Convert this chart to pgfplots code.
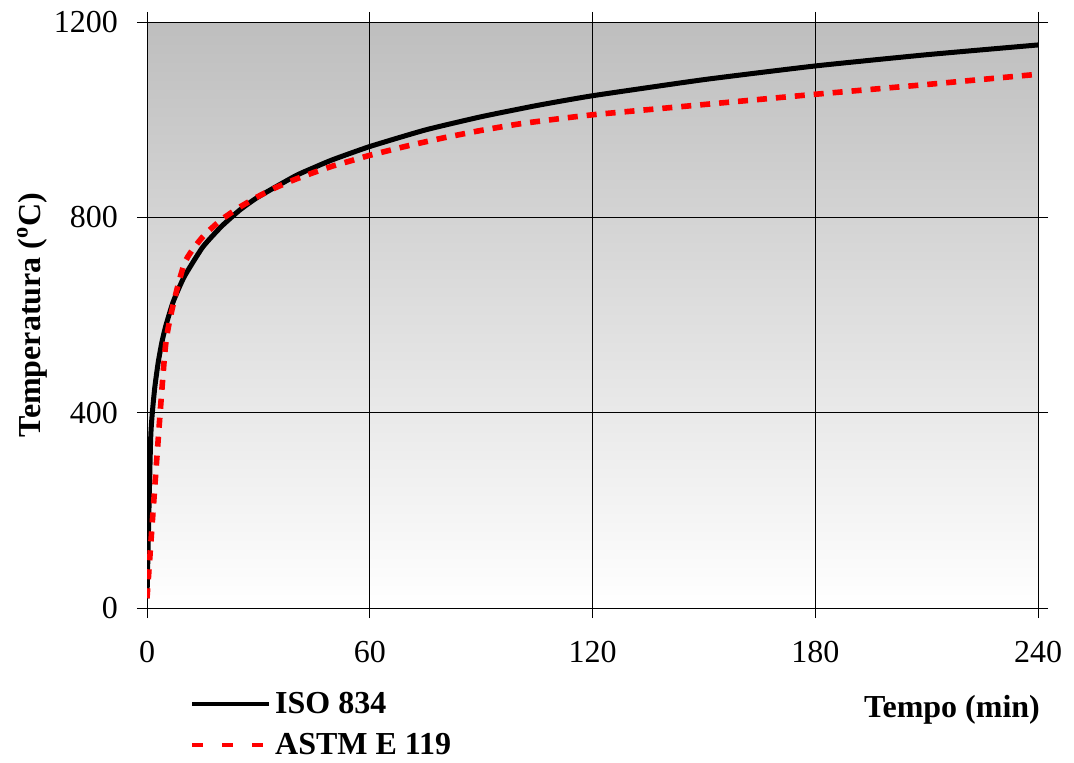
\documentclass[border=0pt]{standalone}
\usepackage{pgfplots}
\pgfplotsset{compat=1.18}
\usepackage{fontspec}
\setmainfont{Liberation Serif}
\definecolor{topgray}{RGB}{190,190,190}
\pgfplotstableread{
t T
0 20
1 349
2 445
3 502
4 544
5 576
7 626
10 678
15 739
20 781
25 815
30 842
40 885
45 902
50 918
60 945
75 979
90 1006
105 1029
120 1049
150 1082
180 1110
210 1133
240 1153
}\isodata
\pgfplotstableread{
t T
0 20
5 538
10 704
15 760
20 795
25 821
30 843
35 862
40 878
45 892
50 905
55 916
60 927
70 946
80 963
90 978
100 991
110 1001
120 1010
140 1024
160 1038
180 1052
210 1072
240 1093
}\astmdata
\begin{document}
\begin{tikzpicture}
\useasboundingbox (-73.5pt,-77pt) rectangle (463.5pt,304pt);
\begin{axis}[
  at={(0,0)}, anchor=south west,
  scale only axis,
  width=445.5pt, height=293pt,
  xmin=0, xmax=240, ymin=0, ymax=1200,
  xtick={0,60,120,180,240},
  ytick={0,400,800,1200},
  /pgf/number format/1000 sep={},
  grid=major,
  major grid style={black, line width=0.5pt},
  axis line style={black, line width=0.5pt},
  tick style={black, line width=0.5pt},
  tick align=outside,
  major tick length=5pt,
  /pgf/number format/assume math mode=true,
  ticklabel style={font=\fontsize{16}{18}\selectfont},
  xticklabel style={yshift=-8pt},
  yticklabel style={xshift=-6pt},
  axis background/.style={shade, top color=topgray, bottom color=white},
  xlabel={\textbf{Tempo (min)}},
  xlabel style={at={(axis description cs:1.01,-0.174)}, anchor=east, font=\fontsize{16}{18}\selectfont},
  ylabel={\textbf{Temperatura (\textsuperscript{o}C)}},
  ylabel style={at={(axis description cs:-0.129,0.5)}, anchor=center, font=\fontsize{16}{18}\selectfont},
  legend style={at={(axis description cs:0.048,-0.136)}, anchor=north west, draw=none, fill=none,
    font=\fontsize{16}{18}\selectfont\bfseries, row sep=4.5pt, inner sep=0pt},
  legend cell align=left,
]
\addplot[black, line width=2.5pt, smooth, tension=0.3,
  legend image code/.code={\draw[black, line width=2pt] (0pt,0pt) -- (38.5pt,0pt);}]
  table[x=t, y=T] {\isodata};
\addlegendentry{ISO 834}
\addplot[red, line width=2.8pt, dash pattern=on 5pt off 4.5pt, smooth, tension=0.3,
  legend image code/.code={\draw[red, line width=2pt, dash pattern=on 5.5pt off 9.5pt] (0pt,0pt) -- (38.5pt,0pt);}]
  table[x=t, y=T] {\astmdata};
\addlegendentry{ASTM E 119}
\end{axis}
\end{tikzpicture}
\end{document}
